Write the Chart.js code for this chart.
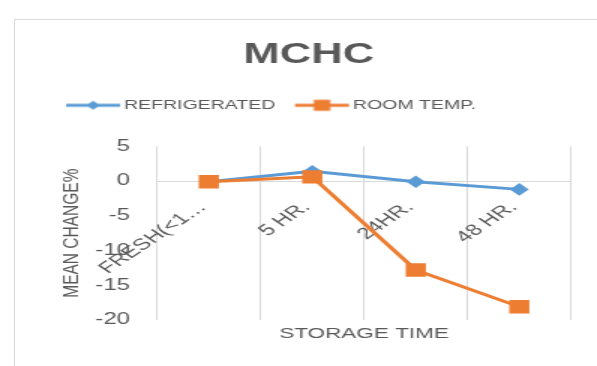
<!DOCTYPE html>
<html>
<head>
<meta charset="utf-8">
<script src="https://cdn.jsdelivr.net/npm/chart.js@4"></script>
<style>
  html, body { margin: 0; padding: 0; background: #fff; overflow: hidden; }
  body { width: 597px; height: 366px; position: relative; }
  #frame { position: absolute; left: 14px; top: 19px; width: 700px; height: 500px; border: 1px solid #d9d9d9; }
  /* the chart is laid out narrow and stretched sideways */
  #wrap { position: absolute; left: 0; top: 0; width: 398px; height: 366px; transform: scaleX(1.5); transform-origin: 0 0; }
</style>
</head>
<body>
<div id="frame"></div>
<div id="wrap"><canvas id="chart"></canvas></div>
<script>
const CATEGORIES = ['FRESH(<1…', '5 HR.', '24HR.', '48 HR.'];
const REFRIGERATED = [-0.1, 1.4, -0.1, -1.2];
const ROOM_TEMP = [-0.1, 0.6, -12.8, -18.1];
const Y_MIN = -20;
const Y_MAX = 5;
const Y_STEP = 5;

const BLUE = '#5B9BD5';
const ORANGE = '#ED7D31';
const GREY_TEXT = '#595959';
const GREY_LINE = '#d9d9d9';

Chart.defaults.font.family = "'Liberation Sans', Arial, sans-serif";
Chart.defaults.color = GREY_TEXT;

// line + marker swatch for the legend
function swatch(color, shape) {
  const c = document.createElement('canvas');
  c.width = 64;
  c.height = 14;
  const g = c.getContext('2d');
  g.strokeStyle = color;
  g.lineWidth = 3;
  g.beginPath();
  g.moveTo(20, 7);
  g.lineTo(56, 7);
  g.stroke();
  g.fillStyle = color;
  if (shape === 'diamond') {
    g.beginPath();
    g.moveTo(38, 2.5);
    g.lineTo(42.5, 7);
    g.lineTo(38, 11.5);
    g.lineTo(33.5, 7);
    g.closePath();
    g.fill();
  } else {
    g.fillRect(32.5, 1.5, 11, 11);
  }
  return c;
}
const swatches = [swatch(BLUE, 'diamond'), swatch(ORANGE, 'square')];

new Chart(document.getElementById('chart').getContext('2d'), {
  type: 'line',
  data: {
    labels: CATEGORIES,
    datasets: [{
      label: 'REFRIGERATED',
      data: REFRIGERATED,
      borderColor: BLUE,
      backgroundColor: BLUE,
      borderWidth: 3,
      tension: 0,
      pointStyle: 'rectRot',
      pointRadius: 6.3,
      pointBorderWidth: 0,
      pointBackgroundColor: BLUE,
      order: 1
    }, {
      label: 'ROOM TEMP.',
      data: ROOM_TEMP,
      borderColor: ORANGE,
      backgroundColor: ORANGE,
      borderWidth: 3,
      tension: 0,
      pointStyle: 'rect',
      pointRadius: 9.5,
      pointBorderWidth: 0,
      pointBackgroundColor: ORANGE,
      order: 0
    }]
  },
  options: {
    responsive: true,
    maintainAspectRatio: false,
    animation: false,
    layout: {
      padding: { left: 31, right: 17.3, top: 0, bottom: 23 }
    },
    plugins: {
      title: {
        display: true,
        text: 'MCHC',
        color: GREY_TEXT,
        font: { size: 29, weight: 'bold' },
        padding: { top: 37.6, bottom: 21.4 }
      },
      legend: {
        position: 'top',
        align: 'start',
        labels: {
          usePointStyle: true,
          pointStyleWidth: 40.2,
          padding: 5,
          color: GREY_TEXT,
          font: { size: 13 },
          sort: (a, b) => a.datasetIndex - b.datasetIndex,
          generateLabels(chart) {
            const items = Chart.defaults.plugins.legend.labels.generateLabels(chart);
            items.forEach((item) => { item.pointStyle = swatches[item.datasetIndex]; });
            return items;
          }
        }
      },
      tooltip: { enabled: false }
    },
    scales: {
      x: {
        type: 'category',
        position: 'bottom',
        offset: true,
        grid: { offset: true, color: GREY_LINE, lineWidth: 1, drawTicks: false },
        border: { display: false },
        ticks: { display: false },
        title: {
          display: true,
          text: 'STORAGE TIME',
          color: GREY_TEXT,
          font: { size: 15 },
          padding: { top: 5, bottom: 0 }
        }
      },
      // category labels sit on the zero line
      xTicks: {
        type: 'category',
        axis: 'x',
        position: { y: 0 },
        offset: true,
        grid: { display: true, drawOnChartArea: false, drawTicks: false },
        border: { display: true, color: GREY_LINE, width: 1 },
        ticks: {
          autoSkip: false,
          minRotation: 45,
          maxRotation: 45,
          padding: 17,
          labelOffset: -4,
          color: GREY_TEXT,
          font: { size: 16 }
        }
      },
      // empty band between the legend and the plot
      spacer: {
        type: 'category',
        axis: 'x',
        position: 'top',
        grid: { display: false, drawTicks: false },
        border: { display: false },
        ticks: { display: false },
        afterFit(scale) { scale.height = 24.5; }
      },
      y: {
        min: Y_MIN,
        max: Y_MAX,
        grid: { display: false, drawTicks: false },
        border: { display: false },
        ticks: {
          stepSize: Y_STEP,
          padding: 18,
          color: GREY_TEXT,
          font: { size: 16 }
        },
        title: {
          display: true,
          text: 'MEAN CHANGE%',
          color: GREY_TEXT,
          font: { size: 15.5 },
          padding: { top: 7.4, bottom: 0 }
        },
        afterFit(scale) { scale.width = 73.7; }
      }
    }
  }
});
</script>
</body>
</html>
